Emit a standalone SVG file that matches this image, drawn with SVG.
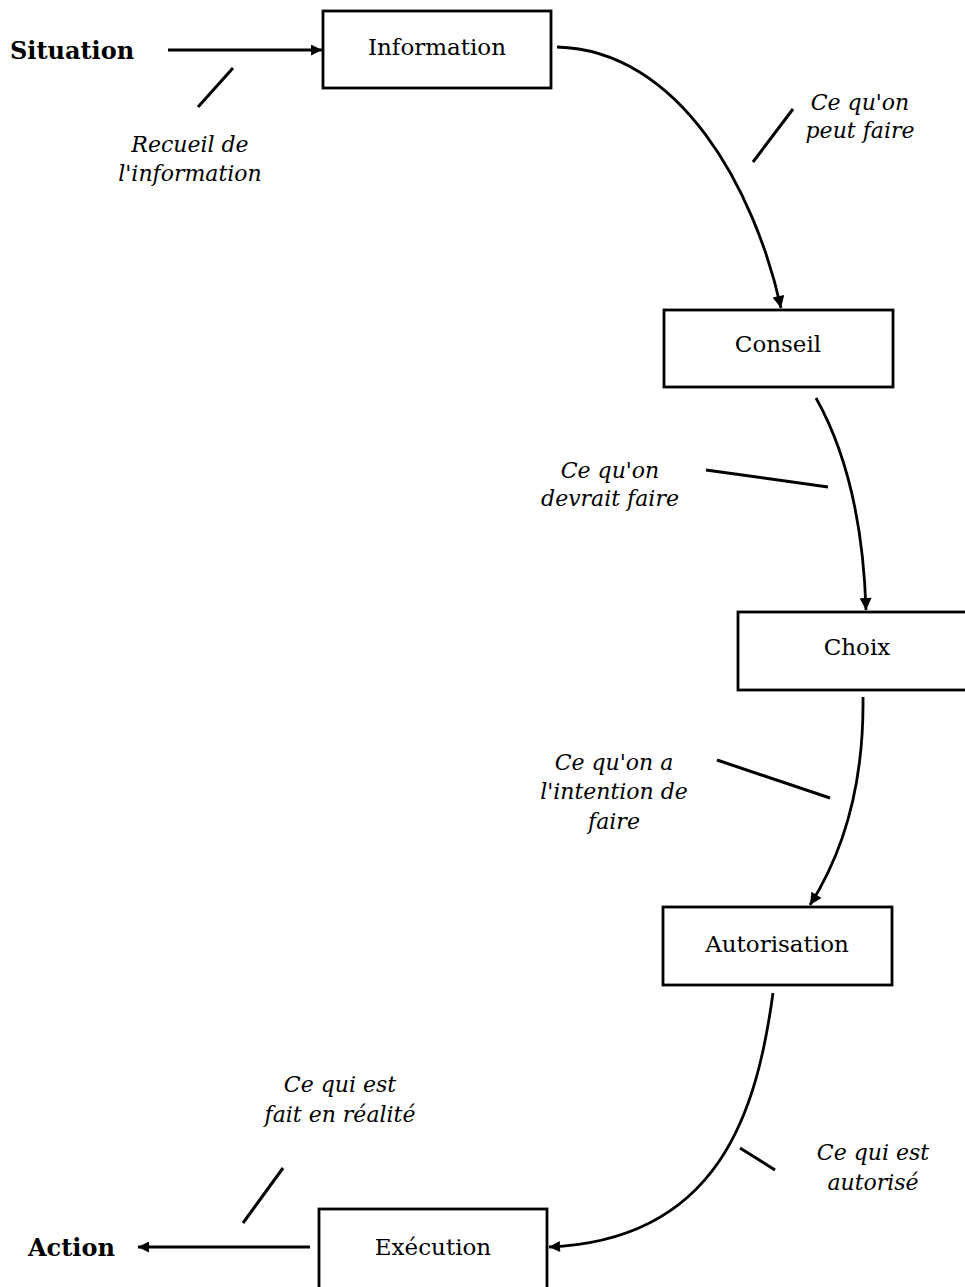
<svg xmlns="http://www.w3.org/2000/svg" width="965" height="1287" viewBox="0 0 965 1287">
<style>
.box{fill:#fff;stroke:#000;stroke-width:2.8}
.nt{font-family:"DejaVu Serif","Liberation Serif",serif;font-size:23px;text-anchor:middle;fill:#000}
.lb{font-family:"DejaVu Serif","Liberation Serif",serif;font-size:22px;font-style:italic;text-anchor:middle;fill:#000}
.bd{font-family:"DejaVu Serif","Liberation Serif",serif;font-size:24px;font-weight:bold;fill:#000}
.c{fill:none;stroke:#000;stroke-width:2.8}
.t{fill:none;stroke:#000;stroke-width:3}
</style>
<defs>
<marker id="ah" viewBox="0 0 10 10" refX="10" refY="5" markerWidth="18" markerHeight="11" markerUnits="userSpaceOnUse" orient="auto">
<path d="M0,0 L10,5 L0,10 z" fill="#000"/>
</marker>
<marker id="ah2" viewBox="0 0 10 10" refX="10" refY="5" markerWidth="26" markerHeight="12" markerUnits="userSpaceOnUse" orient="auto">
<path d="M0,0 L10,5 L0,10 z" fill="#000"/>
</marker>
</defs>
<g id="situation"><text class="bd" x="10" y="59">Situation</text></g>
<g id="action"><text class="bd" x="28" y="1256">Action</text></g>
<g id="information"><rect class="box" x="323" y="11" width="228" height="77"/><text class="nt" x="437" y="55">Information</text></g>
<g id="conseil"><rect class="box" x="664" y="310" width="229" height="77"/><text class="nt" x="778" y="352">Conseil</text></g>
<g id="choix"><rect class="box" x="738" y="612" width="232" height="78"/><text class="nt" x="857" y="655">Choix</text></g>
<g id="autorisation"><rect class="box" x="663" y="907" width="229" height="78"/><text class="nt" x="777" y="952">Autorisation</text></g>
<g id="execution"><rect class="box" x="319" y="1209" width="228" height="82"/><text class="nt" x="433" y="1255">Exécution</text></g>
<g id="connectors">
<path class="c" d="M168,50 L322,50" marker-end="url(#ah)"/>
<path class="c" d="M557,47 C680,50 755,190 781,308" marker-end="url(#ah2)"/>
<path class="c" d="M816,398 Q862,480 866,610" marker-end="url(#ah2)"/>
<path class="c" d="M863,697 C864,780 845,850 810,905" marker-end="url(#ah2)"/>
<path class="c" d="M773,993 C757,1110 720,1240 549,1247" marker-end="url(#ah)"/>
<path class="c" d="M310,1247 L138,1247" marker-end="url(#ah)"/>
</g>
<g id="labels">
<line class="t" x1="233" y1="68" x2="198" y2="107"/>
<text class="lb" x="190" y="152">Recueil de</text>
<text class="lb" x="190" y="181">l'information</text>
<line class="t" x1="793" y1="109" x2="753" y2="162"/>
<text class="lb" x="860" y="110">Ce qu'on</text>
<text class="lb" x="860" y="138">peut faire</text>
<line class="t" x1="706" y1="470" x2="828" y2="487"/>
<text class="lb" x="610" y="478">Ce qu'on</text>
<text class="lb" x="610" y="506">devrait faire</text>
<line class="t" x1="717" y1="760" x2="830" y2="798"/>
<text class="lb" x="614" y="770">Ce qu'on a</text>
<text class="lb" x="614" y="799">l'intention de</text>
<text class="lb" x="614" y="829">faire</text>
<line class="t" x1="740" y1="1148" x2="775" y2="1170"/>
<text class="lb" x="873" y="1160">Ce qui est</text>
<text class="lb" x="873" y="1190">autorisé</text>
<line class="t" x1="283" y1="1168" x2="243" y2="1223"/>
<text class="lb" x="340" y="1092">Ce qui est</text>
<text class="lb" x="340" y="1122">fait en réalité</text>
</g>
</svg>
